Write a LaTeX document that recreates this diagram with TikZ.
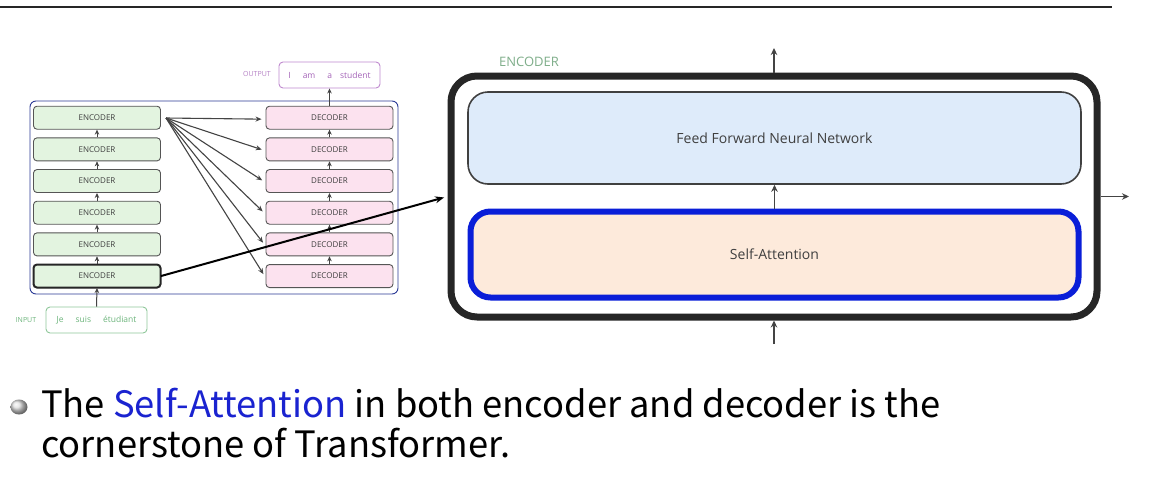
\documentclass[tikz,border=0pt]{standalone}
\usepackage{fontspec}
\setmainfont{Open Sans}
\newfontfamily\krfont{Noto Sans CJK KR}
\usetikzlibrary{arrows.meta}
\definecolor{encfill}{HTML}{E3F4E0}
\definecolor{decfill}{HTML}{FCE2EF}
\definecolor{boxline}{HTML}{555555}
\definecolor{leftblue}{HTML}{2B3A96}
\definecolor{ffnfill}{HTML}{DEEBFA}
\definecolor{safill}{HTML}{FDEADB}
\definecolor{sablue}{HTML}{0A1ED8}
\definecolor{ingreen}{HTML}{6DB57C}
\definecolor{inline}{HTML}{8FC79A}
\definecolor{outpurple}{HTML}{A463B8}
\definecolor{outline}{HTML}{C08ACF}
\definecolor{lblgreen}{HTML}{7FAE8A}
\definecolor{txtblue}{HTML}{1A23D0}
\definecolor{arrowgray}{HTML}{444444}
\definecolor{labeltxt}{HTML}{3F3F3F}
\begin{document}
\begin{tikzpicture}[x=1pt,y=-1pt,
  encbox/.style={draw=boxline, line width=0.9pt, fill=encfill, rounded corners=3.5pt,
    minimum width=127pt, minimum height=23pt, inner sep=0pt,
    font=\fontsize{8}{9}\selectfont, text=labeltxt},
  decbox/.style={encbox, fill=decfill},
  smallarr/.style={draw=arrowgray, line width=1pt, -{Stealth[length=5pt,width=4.5pt]}},
  fanarr/.style={draw=arrowgray, line width=1.1pt, -{Stealth[length=6pt,width=5pt]}},
  bigarr/.style={draw=arrowgray, line width=1.8pt, -{Stealth[length=7pt,width=6.5pt]}},
  wordbox/.style={rounded corners=4pt, line width=0.9pt, minimum width=101pt,
    minimum height=26pt, inner sep=0pt, font=\fontsize{8.5}{10}\selectfont}
]
\useasboundingbox (0,0) rectangle (1176,482);
\fill[white] (0,0) rectangle (1176,482);
\draw[line width=2pt, black!85] (0,7) -- (1112,7);

% left container
\node[draw=leftblue, line width=0.9pt, rounded corners=6pt, minimum width=368pt,
  minimum height=193pt] (left) at (214,197.5) {};

% encoders and decoders
\foreach \i in {1,...,6} {
  \pgfmathsetmacro{\yy}{117.7+(\i-1)*31.67}
  \node[encbox] (enc\i) at (97,\yy) {ENCODER};
  \node[decbox] (dec\i) at (329.5,\yy) {DECODER};
}
\node[encbox, line width=2pt, draw=black!85] at (enc6) {ENCODER};

\foreach \i/\j in {2/1,3/2,4/3,5/4,6/5} {
  \draw[smallarr] (enc\i.north) -- (enc\j.south);
  \draw[smallarr] (dec\i.north) -- (dec\j.south);
}

% fan of arrows
\coordinate (fan) at (166,118);
\foreach \i in {1,...,6} {
  \draw[fanarr, shorten >=4pt] (fan) -- ([yshift=-1.5pt]dec\i.west);
}

% input / output
\node[wordbox, draw=inline, text=ingreen] (in) at (96.5,320) {Je\hspace{12pt}suis\hspace{12pt}étudiant};
\node[text=ingreen, font=\fontsize{7}{8}\selectfont, anchor=center] (inlbl) at (26,320) {INPUT};
\node[wordbox, draw=outline, text=outpurple] (out) at (329.5,75) {I\hspace{12pt}am\hspace{12pt}a\hspace{8pt}student};
\node[text=outpurple!80, font=\fontsize{7}{8}\selectfont] (outlbl) at (257,74) {OUTPUT};
\draw[smallarr] (in.north) -- (enc6.south);
\draw[smallarr] (dec1.north) -- (out.south);

% big encoder
\node[draw=black!85, line width=7pt, rounded corners=26pt, minimum width=646pt,
  minimum height=241pt] (big) at (774,196.5) {};
\node[text=lblgreen, font=\fontsize{13}{14}\selectfont] (biglbl) at (529,62) {ENCODER};
\node[draw=black!75, line width=1.6pt, fill=ffnfill, rounded corners=20pt,
  minimum width=613pt, minimum height=92pt, text=labeltxt,
  font=\fontsize{14}{16}\selectfont] (ffn) at (774.5,138) {Feed Forward Neural Network};
\node[draw=sablue, line width=6pt, fill=safill, rounded corners=20pt,
  minimum width=608pt, minimum height=86pt, text=labeltxt,
  font=\fontsize{14}{16}\selectfont] (sa) at (774.5,254.5) {Self-Attention};

\draw[line width=2pt, black, -{Stealth[length=9pt,width=7pt]}, shorten >=3.5pt] (enc6.east) -- (big.west);

\coordinate (topout) at (774,48);
\coordinate (botin) at (774,344);
\coordinate (rightout) at (1129,196.5);
\draw[bigarr] (big.north) -- (topout);
\draw[bigarr] (sa.north) -- (ffn.south);
\draw[bigarr] (botin) -- (big.south);
\draw[bigarr] (big.east) -- (rightout);

% bottom text
\shade[ball color=gray!25] (19,407) ellipse (8.5pt and 7.5pt);
\node[anchor=base west, inner sep=0pt, font=\krfont\fontsize{36.3}{40}\selectfont] (line1) at (41,417)
  {The \textcolor{txtblue}{Self-Attention} in both encoder and decoder is the};
\node[anchor=base west, inner sep=0pt, font=\krfont\fontsize{36.3}{40}\selectfont] (line2) at (41,457)
  {cornerstone of Transformer.};
\end{tikzpicture}
\end{document}
